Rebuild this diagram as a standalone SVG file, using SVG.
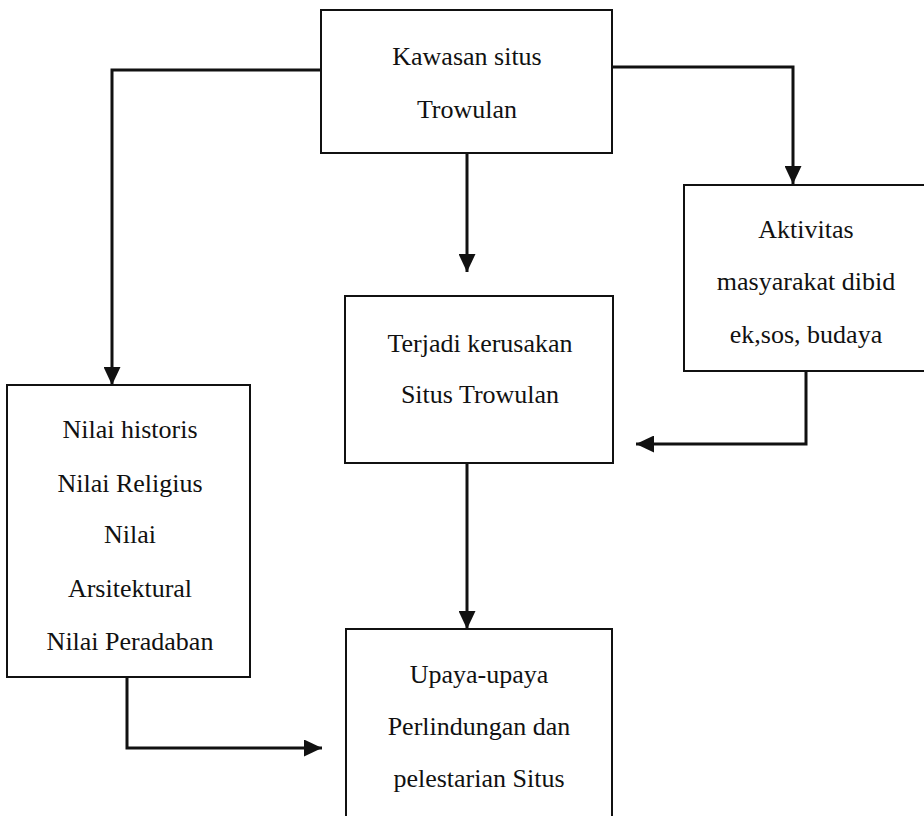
<svg xmlns="http://www.w3.org/2000/svg" width="924" height="816" viewBox="0 0 924 816" font-family="'Liberation Serif', 'Times New Roman', serif">
<defs>
<style>
.box{fill:#fff;stroke:#111;stroke-width:2}
.t{font-family:'Liberation Serif','Times New Roman',serif;font-size:26px;fill:#111;text-anchor:middle}
.c{fill:none;stroke:#111;stroke-width:3}
</style>
<marker id="ah" markerWidth="18" markerHeight="17" refX="18" refY="8.5" orient="auto" markerUnits="userSpaceOnUse">
<path d="M0,0 L18,8.5 L0,17 Z" fill="#111"/>
</marker>
</defs>
<rect width="924" height="816" fill="#fff"/>
<g id="connectors">
<path class="c" d="M321,70 H112 V385" marker-end="url(#ah)"/>
<path class="c" d="M612,67 H793 V184" marker-end="url(#ah)"/>
<path class="c" d="M467,153 V272" marker-end="url(#ah)"/>
<path class="c" d="M806,371 V444 H636" marker-end="url(#ah)"/>
<path class="c" d="M467,463 V629" marker-end="url(#ah)"/>
<path class="c" d="M127,677 V748 H322" marker-end="url(#ah)"/>
</g>
<g id="kawasan">
<rect class="box" x="321" y="10" width="291" height="143"/>
<text class="t" x="467" y="65">Kawasan situs</text>
<text class="t" x="467" y="118">Trowulan</text>
</g>
<g id="aktivitas">
<rect class="box" x="684" y="185" width="250" height="186"/>
<text class="t" x="806" y="238">Aktivitas</text>
<text class="t" x="806" y="290">masyarakat dibid</text>
<text class="t" x="806" y="343">ek,sos, budaya</text>
</g>
<g id="kerusakan">
<rect class="box" x="345" y="296" width="268" height="167"/>
<text class="t" x="480" y="352">Terjadi kerusakan</text>
<text class="t" x="480" y="403">Situs Trowulan</text>
</g>
<g id="nilai">
<rect class="box" x="7" y="385" width="243" height="292"/>
<text class="t" x="130" y="438">Nilai historis</text>
<text class="t" x="130" y="492">Nilai Religius</text>
<text class="t" x="130" y="543">Nilai</text>
<text class="t" x="130" y="597">Arsitektural</text>
<text class="t" x="130" y="650">Nilai Peradaban</text>
</g>
<g id="upaya">
<rect class="box" x="346" y="629" width="266" height="200"/>
<text class="t" x="479" y="683">Upaya-upaya</text>
<text class="t" x="479" y="735">Perlindungan dan</text>
<text class="t" x="479" y="787">pelestarian Situs</text>
</g>
</svg>
